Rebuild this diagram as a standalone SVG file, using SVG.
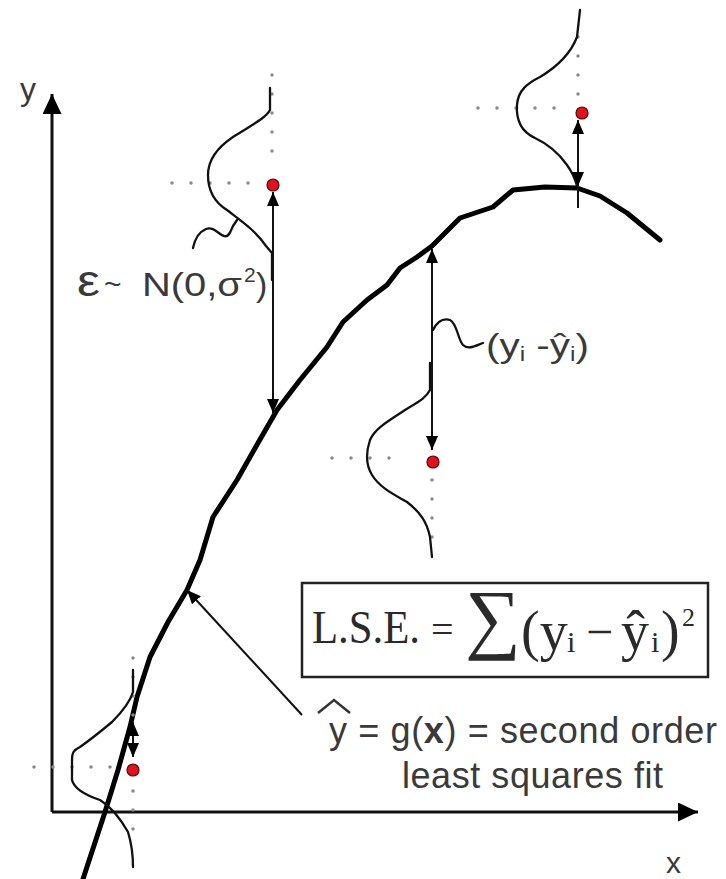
<svg xmlns="http://www.w3.org/2000/svg" width="726" height="879" viewBox="0 0 726 879">
<style>
.ax{stroke:#111;stroke-width:3;fill:none}
.fit{stroke:#000;stroke-width:5;fill:none;stroke-linejoin:round;stroke-linecap:round}
.pdf{stroke:#111;stroke-width:2.3;fill:none;stroke-linejoin:round;stroke-linecap:round}
.dot{stroke:#8a8a8a;stroke-width:3.5;stroke-dasharray:0 19;stroke-linecap:round;fill:none}
.arr{stroke:#111;stroke-width:2;fill:none}
.pt{fill:#e5101c;stroke:#5a0000;stroke-width:1.2}
.sans{font-family:"Liberation Sans",Arial,sans-serif;fill:#3a3a3a}
.serif{font-family:"Liberation Serif","Times New Roman",serif;fill:#2a2a2a}
</style>
<defs>
<marker id="ah" viewBox="0 0 14 12" refX="14" refY="6" markerWidth="14" markerHeight="12" markerUnits="userSpaceOnUse" orient="auto-start-reverse"><path d="M0,0 L14,6 L0,12 z" fill="#000"/></marker>
<marker id="axh" viewBox="0 0 20 19" refX="20" refY="9.5" markerWidth="20" markerHeight="19" markerUnits="userSpaceOnUse" orient="auto"><path d="M0,0 L20,9.5 L0,19 z" fill="#000"/></marker>
</defs>
<rect width="726" height="879" fill="#fff"/>

<g id="axes">
<path class="ax" d="M52,812 L52,94" marker-end="url(#axh)"/>
<path class="ax" d="M52,812 L698,812" marker-end="url(#axh)"/>
<text class="sans" x="20" y="100" font-size="32">y</text>
<text class="sans" x="666" y="873" font-size="30">x</text>
</g>

<g id="fit-curve">
<path class="fit" d="M83,879 L105,812 L118,770 L130,727 L137,697 L150,657 L168,622 L187,590 L200,560 L213,517 L237,480 L258,443 L277,410 L300,380 L327,347 L343,322 L367,300 L387,285 L400,268 L417,257 L432,246 L445,233 L460,218 L493,207 L513,190 L545,187 L577,188 L600,196 L627,213 L660,240"/>
</g>

<g id="gauss-1">
<path class="dot" d="M172,183 L250,183"/>
<path class="dot" d="M272,75 L272,170"/>
<path class="pdf" d="M270,88 L270,110 C266,118 250,126 233,137 C218,147 208,160 208,175 C208,190 214,202 227,210 C240,220 255,230 266,246 L272,253 L272,280"/>
<circle class="pt" cx="273" cy="185" r="6"/>
</g>

<g id="gauss-2">
<path class="dot" d="M478,108 L556,108"/>
<path class="dot" d="M578,37 L578,96"/>
<path class="pdf" d="M580,10 L577,37 C572,50 560,65 540,77 C528,83 518,90 517,105 C516,120 522,132 535,138 C550,145 560,155 567,165 C572,172 575,178 577,186"/>
<circle class="pt" cx="582" cy="113" r="6"/>
</g>

<g id="gauss-3">
<path class="dot" d="M332,458 L408,458"/>
<path class="dot" d="M432,480 L432,556"/>
<path class="pdf" d="M430,363 L430,390 C426,398 418,402 405,410 C390,420 375,428 370,440 C366,452 366,465 372,475 C380,488 395,495 407,502 C420,512 427,522 430,537 L432,557"/>
<circle class="pt" cx="433" cy="462" r="6"/>
</g>

<g id="gauss-4">
<path class="dot" d="M34,767 L112,767"/>
<path class="dot" d="M133,658 L133,848"/>
<path class="pdf" d="M133,670 L133,692 C130,702 124,710 112,722 C100,732 90,740 80,747 C74,750 72,752 72,760 L72,780 C74,788 82,794 100,800 C110,806 120,818 128,832 C132,845 133,855 133,867"/>
<circle class="pt" cx="133" cy="770" r="6"/>
</g>

<g id="connectors">
<path class="arr" d="M273,413 L273,192" marker-start="url(#ah)" marker-end="url(#ah)"/>
<path class="arr" d="M578,186 L578,120" marker-start="url(#ah)" marker-end="url(#ah)"/>
<path class="arr" d="M578,186 L578,208"/>
<path class="arr" d="M432,450 L432,249" marker-start="url(#ah)" marker-end="url(#ah)"/>
<path class="arr" d="M133,757 L133,722" marker-start="url(#ah)" marker-end="url(#ah)"/>
<path class="arr" d="M302,715 L187,590" marker-end="url(#ah)"/>
<path class="pdf" d="M193,248 C195,238 199,232 206,229 C214,226 219,235 224,236 C229,238 231,230 233,226 L237,220"/>
<path class="pdf" d="M433,330 C437,322 443,318 450,320 C457,323 458,340 463,345 C468,350 475,346 483,343"/>
</g>

<g id="label-eps">
<text class="sans" x="77" y="296" font-size="44" textLength="23" lengthAdjust="spacingAndGlyphs">ε</text>
<text class="sans" x="104" y="294" font-size="30">~</text>
<text class="sans" x="142" y="296" font-size="34" textLength="100" lengthAdjust="spacingAndGlyphs">N(0,σ</text>
<text class="sans" x="244" y="282" font-size="21">2</text>
<text class="sans" x="256" y="296" font-size="34">)</text>
</g>

<g id="label-resid">
<text class="sans" x="486" y="357" font-size="33" textLength="103" lengthAdjust="spacingAndGlyphs">(y<tspan font-size="20" dy="4">i</tspan><tspan dy="-4"> -ŷ</tspan><tspan font-size="20" dy="4">i</tspan><tspan dy="-4">)</tspan></text>
</g>

<g id="lse-box">
<rect x="302" y="583" width="406" height="94" fill="none" stroke="#222" stroke-width="2.5"/>
<text class="serif" x="312" y="643" font-size="46" textLength="108" lengthAdjust="spacingAndGlyphs">L.S.E.</text>
<text class="serif" x="431" y="643" font-size="40">=</text>
<text class="serif" x="465" y="644" font-size="78">∑</text>
<text class="serif" x="521" y="650" font-size="56">(y</text>
<text class="serif" x="567" y="652" font-size="30">i</text>
<text class="serif" x="586" y="648" font-size="48">−</text>
<text class="serif" x="621" y="650" font-size="56">ŷ</text>
<text class="serif" x="651" y="652" font-size="30">i</text>
<text class="serif" x="661" y="650" font-size="56">)</text>
<text class="serif" x="682" y="626" font-size="26">2</text>
</g>

<g id="label-fit">
<polyline points="318,713 334,700 350,713" fill="none" stroke="#333" stroke-width="2.5"/>
<text class="sans" x="329" y="743" font-size="36" textLength="388" lengthAdjust="spacing">y = g(<tspan font-weight="bold">x</tspan>) = second order</text>
<text class="sans" x="402" y="788" font-size="36" textLength="261" lengthAdjust="spacing">least squares fit</text>
</g>
</svg>
